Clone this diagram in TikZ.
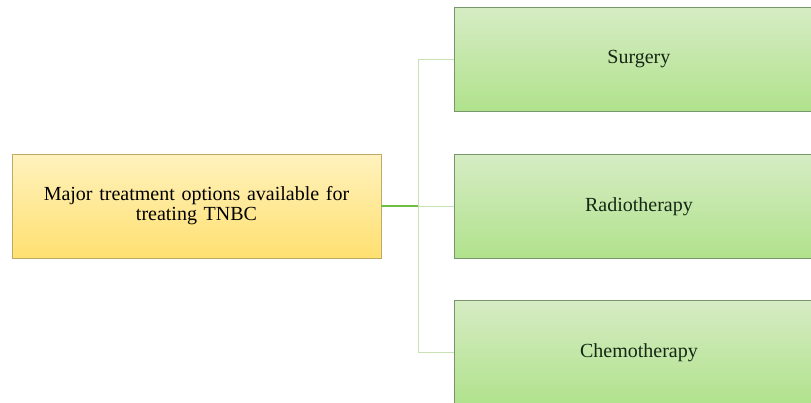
\documentclass[tikz,border=0pt]{standalone}
\usepackage{fontspec}
\setmainfont{Liberation Serif}
\usepackage{tikz}
\usetikzlibrary{positioning, calc}
\definecolor{goldtop}{RGB}{255,242,190}
\definecolor{goldbot}{RGB}{255,224,112}
\definecolor{goldline}{RGB}{190,170,100}
\definecolor{leaftop}{RGB}{214,236,196}
\definecolor{leafbot}{RGB}{176,226,140}
\definecolor{leafline}{RGB}{120,150,105}
\definecolor{twig}{RGB}{200,225,180}
\definecolor{stem}{RGB}{110,190,70}
\definecolor{inkleaf}{RGB}{20,40,20}

\tikzset{
  topic/.style={draw=goldline, line width=0.8pt, top color=goldtop, bottom color=goldbot,
    minimum width=369pt, minimum height=104pt, align=center, text width=340pt,
    font=\fontsize{20}{20}\selectfont},
  option/.style={draw=leafline, line width=0.8pt, top color=leaftop, bottom color=leafbot,
    minimum width=369pt, minimum height=104pt, align=center, text=inkleaf,
    font=\fontsize{20}{20}\selectfont},
  twigline/.style={twig, line width=1.2pt},
  stemline/.style={stem, line width=1.4pt}
}

\begin{document}
\begin{tikzpicture}[x=1pt, y=-1pt]
  % page frame (811 x 402)
  \useasboundingbox (0,0) rectangle (811,402);
  \clip (0,0) rectangle (811,402);

  % root box
  \node[topic] (tnbc) at (196.5,206) {Major treatment options available for\\treating TNBC};

  % the three options
  \node[option, anchor=north west] (surgery) at (454,7)   {Surgery};
  \node[option, anchor=north west] (radio)   at (454,154) {Radiotherapy};
  \node[option, anchor=north west] (chemo)   at (454,300) {Chemotherapy};

  % connectors
  \coordinate (fork) at ($(tnbc.east)+(37,0)$);
  \draw[twigline] (fork |- surgery.west) -- (fork |- chemo.west);
  \draw[twigline] (fork |- surgery.west) -- (surgery.west);
  \draw[twigline] (fork |- radio.west) -- (radio.west);
  \draw[twigline] (fork |- chemo.west) -- (chemo.west);
  \draw[stemline] (tnbc.east) -- (fork);
\end{tikzpicture}
\end{document}
